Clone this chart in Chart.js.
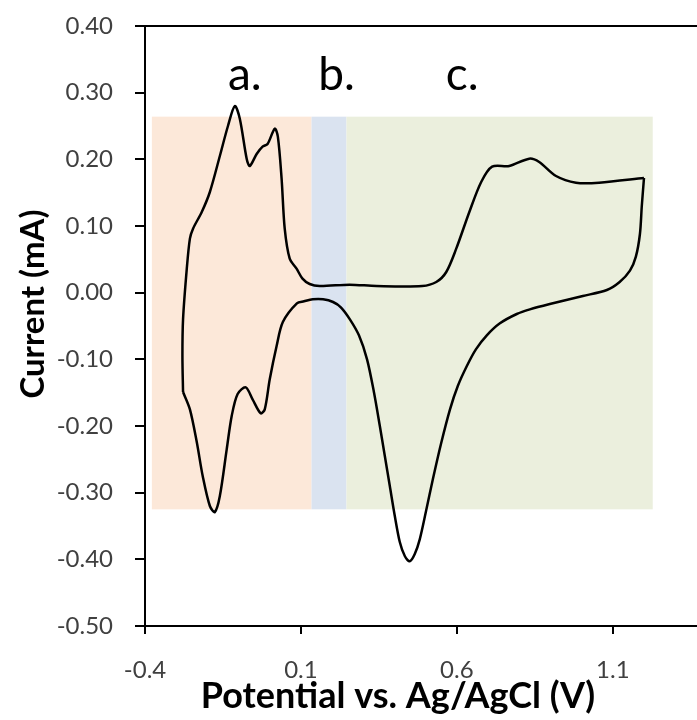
<!DOCTYPE html>
<html>
<head>
<meta charset="utf-8">
<script src="https://cdn.jsdelivr.net/npm/chart.js@4"></script>
<style>
  html, body { margin: 0; padding: 0; background: #fff; overflow: hidden; }
  canvas { display: block; }
</style>
</head>
<body>
<canvas id="cv" width="697" height="720"></canvas>
<script>
// forward sweep: -0.28 V -> 1.20 V
const forwardV = [-0.278, -0.280, -0.278, -0.266, -0.256, -0.246, -0.218, -0.192, -0.160, -0.134,
  -0.112, -0.096, -0.074, -0.064, -0.042, -0.023, -0.007, 0.016, 0.026, 0.038,
  0.048, 0.064, 0.086, 0.105, 0.128, 0.160, 0.256, 0.342, 0.489, 0.534,
  0.566, 0.598, 0.640, 0.678, 0.713, 0.768, 0.832, 0.864, 0.918, 0.982,
  1.056, 1.200];
const forwardI = [-0.149, -0.095, -0.040, 0.036, 0.081, 0.096, 0.121, 0.151, 0.205, 0.250,
  0.280, 0.261, 0.201, 0.190, 0.208, 0.219, 0.223, 0.246, 0.234, 0.171,
  0.096, 0.051, 0.036, 0.021, 0.013, 0.010, 0.012, 0.010, 0.010, 0.016,
  0.031, 0.066, 0.121, 0.166, 0.189, 0.190, 0.201, 0.196, 0.175, 0.165,
  0.165, 0.172];

// reverse sweep: 1.20 V -> -0.28 V
const reverseV = [1.200, 1.193, 1.187, 1.174, 1.155, 1.122, 1.081, 1.004, 0.898, 0.834,
  0.792, 0.738, 0.696, 0.661, 0.632, 0.603, 0.578, 0.549, 0.523, 0.501,
  0.481, 0.465, 0.449, 0.433, 0.417, 0.401, 0.385, 0.369, 0.353, 0.334,
  0.312, 0.286, 0.257, 0.228, 0.203, 0.171, 0.138, 0.110, 0.087, 0.042,
  0.022, 0.000, -0.016, -0.029, -0.055, -0.077, -0.103, -0.122, -0.138, -0.160,
  -0.176, -0.192, -0.215, -0.234, -0.256, -0.278];
const reverseI = [0.172, 0.130, 0.088, 0.054, 0.033, 0.016, 0.004, -0.005, -0.017, -0.025,
  -0.032, -0.046, -0.064, -0.085, -0.110, -0.140, -0.175, -0.227, -0.280, -0.328,
  -0.370, -0.392, -0.403, -0.395, -0.374, -0.335, -0.290, -0.245, -0.200, -0.149,
  -0.100, -0.064, -0.040, -0.022, -0.014, -0.010, -0.010, -0.013, -0.016, -0.044,
  -0.080, -0.130, -0.175, -0.181, -0.160, -0.142, -0.152, -0.185, -0.235, -0.305,
  -0.329, -0.320, -0.275, -0.224, -0.175, -0.149];

const xTicks = [-0.4, 0.1, 0.6, 1.1];
const yTicks = [0.4, 0.3, 0.2, 0.1, 0.0, -0.1, -0.2, -0.3, -0.4, -0.5];

// shaded regions a. b. c.: edges (V) and shared current span (mA)
const regionNames = ["a.", "b.", "c."];
const regionEdges = [-0.378, 0.134, 0.246, 1.228];
const regionSpan = [-0.325, 0.264];
const regionLabelV = [-0.08, 0.214, 0.617];
const regionLabelI = 0.304;
const regionColors = ["#fce8d9", "#dae3f0", "#ebefdd"];

const FONT = "Lato, 'Open Sans', sans-serif";

function toPoints(xs, ys) {
  return xs.map((x, i) => ({ x: x, y: ys[i] }));
}

// shaded bands under the curve + a./b./c. labels
const regionPlugin = {
  id: "regions",
  beforeDatasetsDraw(chart) {
    const { ctx, scales: { x, y } } = chart;
    const top = y.getPixelForValue(regionSpan[1]);
    const bottom = y.getPixelForValue(regionSpan[0]);
    ctx.save();
    for (let i = 0; i < regionNames.length; i++) {
      const left = x.getPixelForValue(regionEdges[i]);
      const right = x.getPixelForValue(regionEdges[i + 1]);
      ctx.fillStyle = regionColors[i];
      ctx.fillRect(left, top, right - left, bottom - top);
    }
    ctx.restore();
  },
  afterDatasetsDraw(chart) {
    const { ctx, scales: { x, y } } = chart;
    ctx.save();
    ctx.fillStyle = "#000";
    ctx.font = "46px " + FONT;
    ctx.textAlign = "center";
    ctx.textBaseline = "alphabetic";
    regionNames.forEach((name, i) => {
      ctx.fillText(name, x.getPixelForValue(regionLabelV[i]), y.getPixelForValue(regionLabelI));
    });
    ctx.restore();
  }
};

// axis titles, placed like the original (not centred on the plot area)
const titlePlugin = {
  id: "axisTitles",
  afterDraw(chart) {
    const ctx = chart.ctx;
    ctx.save();
    ctx.fillStyle = "#000";
    ctx.textAlign = "center";
    ctx.textBaseline = "alphabetic";
    ctx.font = "bold 36px " + FONT;
    ctx.fillText("Potential vs. Ag/AgCl (V)", 398, 708);
    ctx.font = "bold 33px " + FONT;
    ctx.translate(44, 304);
    ctx.rotate(-Math.PI / 2);
    ctx.fillText("Current (mA)", 0, 0);
    ctx.restore();
  }
};

new Chart(document.getElementById("cv"), {
  type: "scatter",
  data: {
    datasets: [
      { data: toPoints(forwardV, forwardI) },
      { data: toPoints(reverseV, reverseI) }
    ]
  },
  options: {
    responsive: false,
    animation: false,
    devicePixelRatio: 1,
    layout: { padding: { top: 26, right: 0, left: 0, bottom: 0 } },
    elements: {
      point: { radius: 0 },
      line: { borderColor: "#000", borderWidth: 2.5, tension: 0.3 }
    },
    datasets: { scatter: { showLine: true } },
    plugins: {
      legend: { display: false },
      tooltip: { enabled: false }
    },
    scales: {
      x: {
        type: "linear",
        min: -0.4,
        max: 1.37,
        afterBuildTicks: s => { s.ticks = xTicks.map(v => ({ value: v })); },
        afterFit: s => { s.height = 94; },
        ticks: {
          callback: v => v.toFixed(1),
          color: "#404040",
          font: { family: FONT, size: 24 },
          padding: 22,
          maxRotation: 0
        },
        grid: { drawOnChartArea: false, color: "#000", lineWidth: 2, tickLength: 8 },
        border: { color: "#000", width: 2 }
      },
      y: {
        type: "linear",
        min: -0.5,
        max: 0.4,
        afterBuildTicks: s => { s.ticks = yTicks.map(v => ({ value: v })); },
        afterFit: s => { s.width = 145; s.paddingTop = 0; s.paddingBottom = 0; },
        ticks: {
          callback: v => v.toFixed(2),
          color: "#404040",
          font: { family: FONT, size: 24 },
          padding: 22
        },
        grid: {
          color: c => (c.tick && c.tick.value === 0.4 ? "#000" : "rgba(0,0,0,0)"),
          tickColor: "#000",
          lineWidth: 2,
          tickLength: 10
        },
        border: { color: "#000", width: 2 }
      }
    }
  },
  plugins: [regionPlugin, titlePlugin]
});
</script>
</body>
</html>
